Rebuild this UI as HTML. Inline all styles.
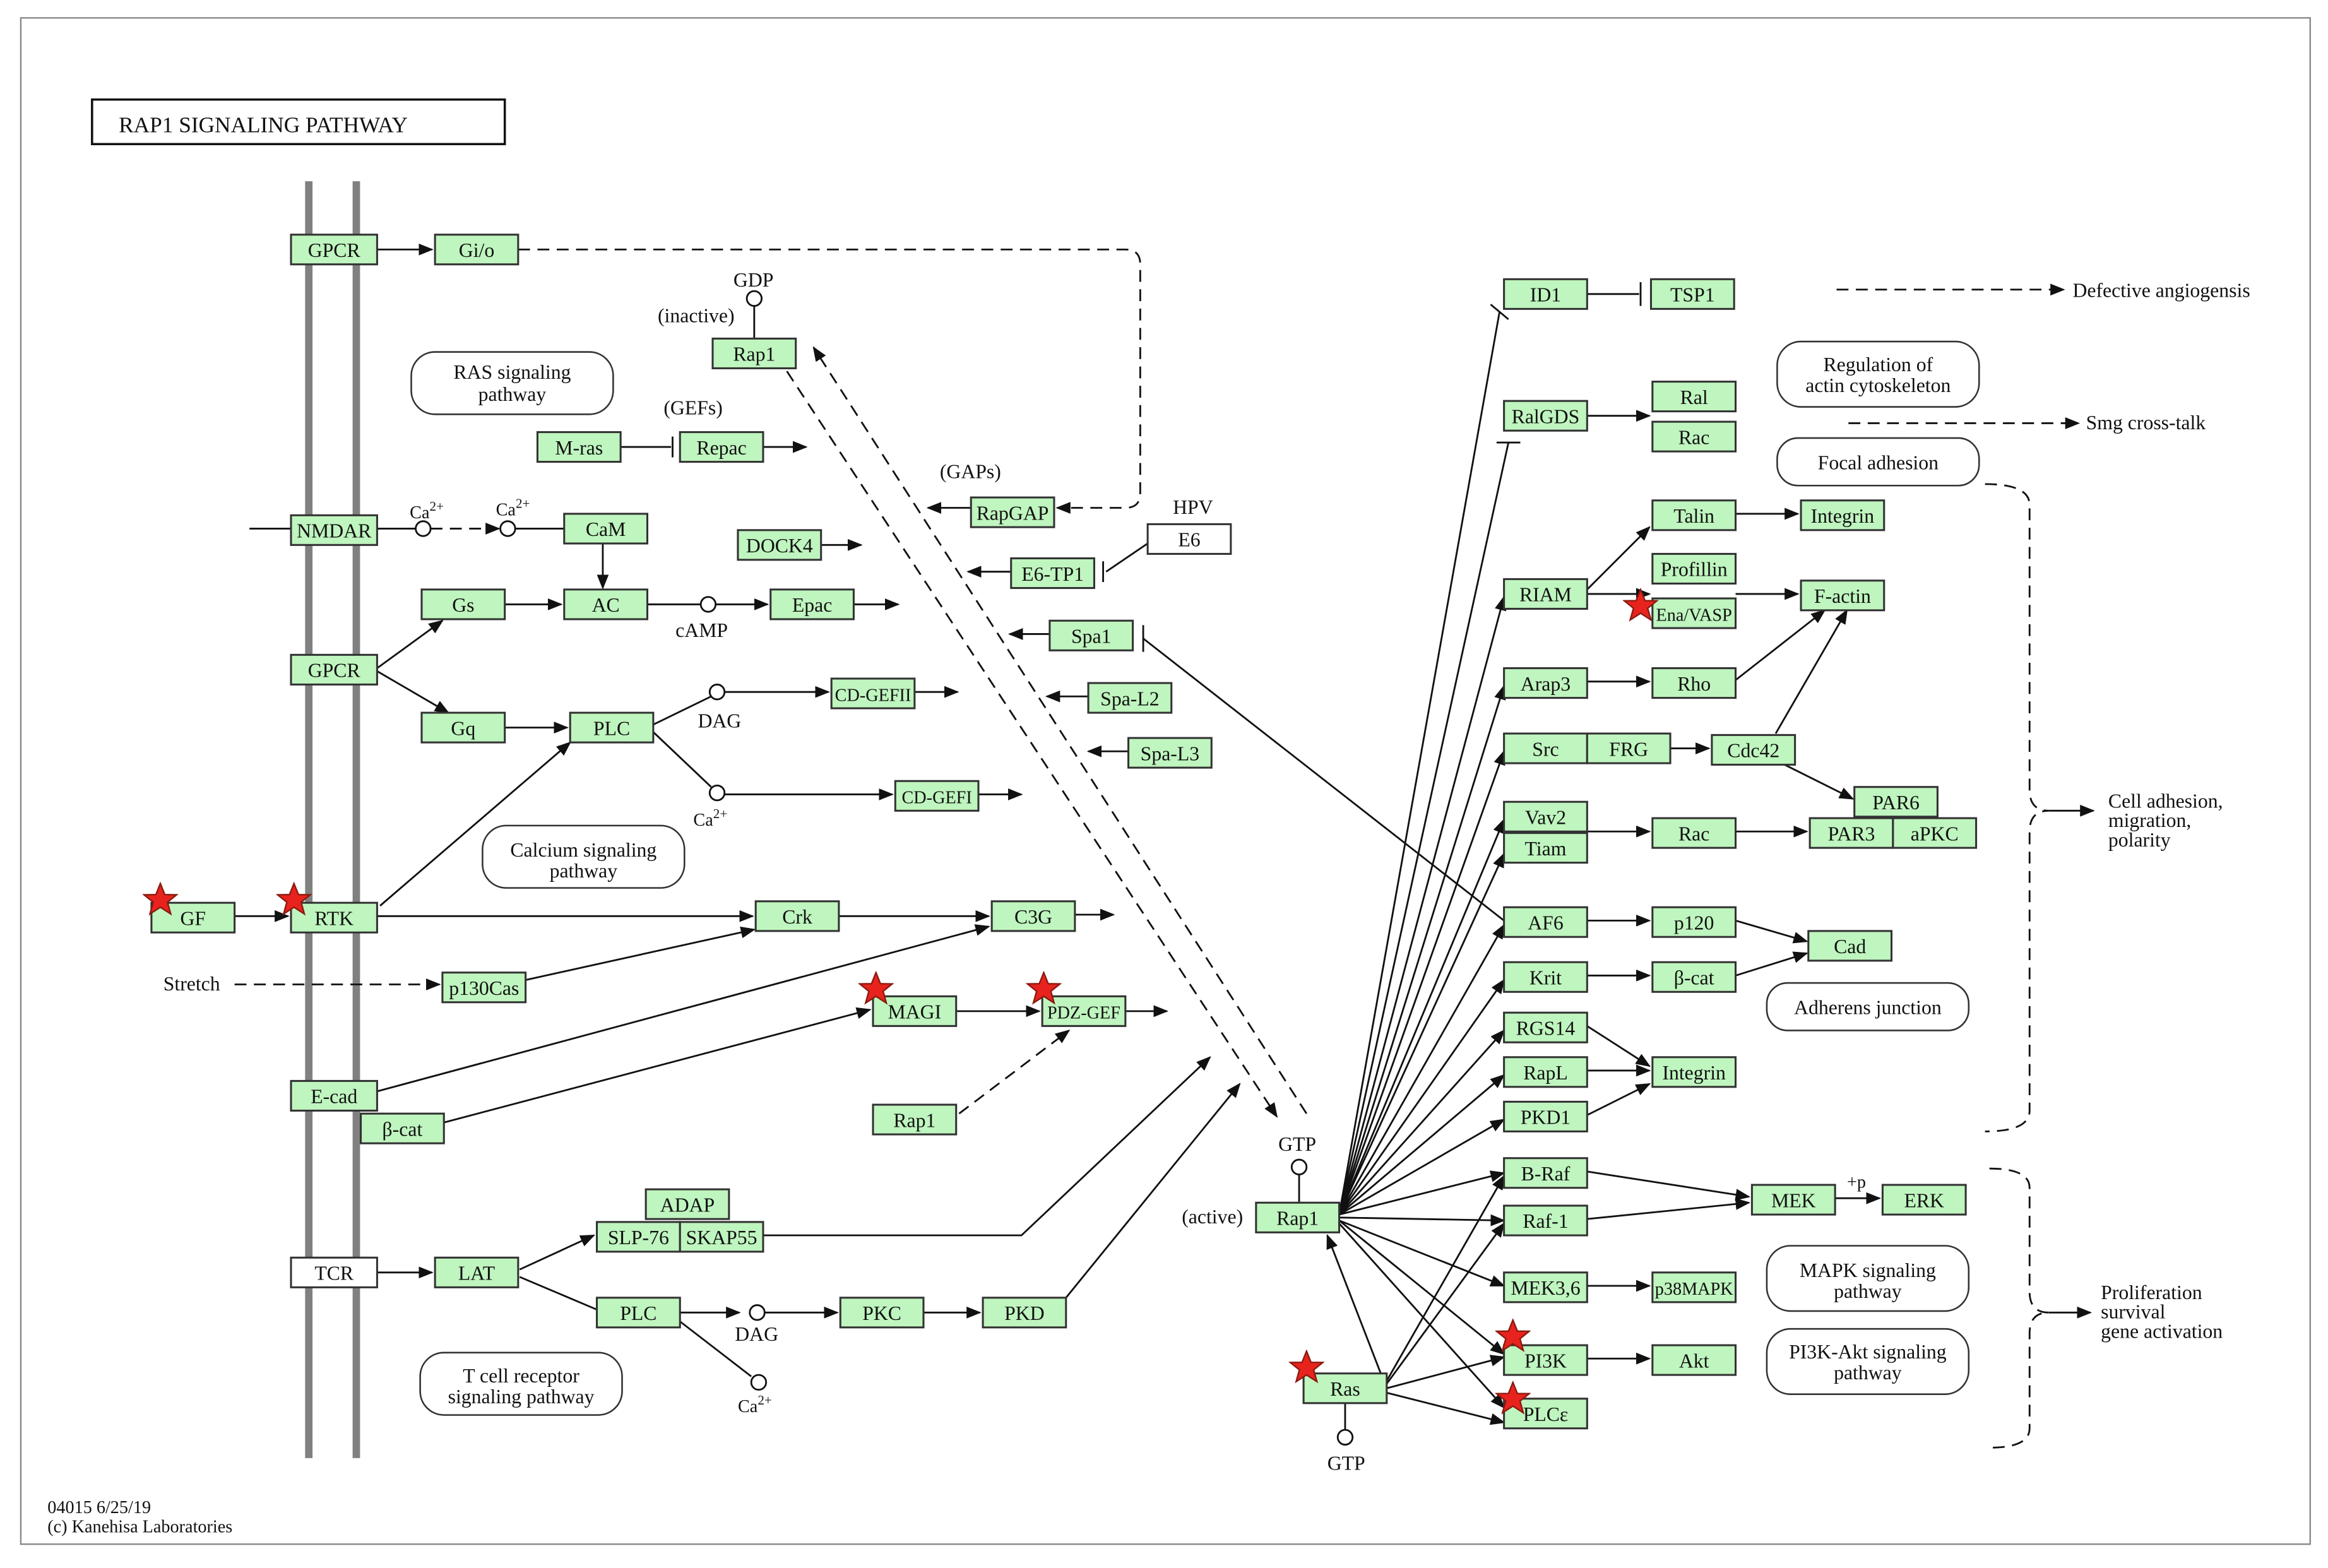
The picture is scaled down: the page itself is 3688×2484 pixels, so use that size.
<!DOCTYPE html>
<html><head><meta charset="utf-8"><style>
html,body{margin:0;padding:0;background:#fff}
svg{display:block}
text{font-family:"Liberation Serif",serif;font-size:13.5px;fill:#111}
.b{fill:#bff5bf;stroke:#333;stroke-width:1.3}
.w{fill:#fff;stroke:#333;stroke-width:1.3}
.r{fill:#fff;stroke:#333;stroke-width:1.1}
.l{stroke:#111;stroke-width:1.2;fill:none}
.d{stroke:#111;stroke-width:1.2;fill:none;stroke-dasharray:8,5}
.c{fill:#fff;stroke:#111;stroke-width:1.2}
</style></head><body>
<svg width="3688" height="2484" viewBox="0 0 1568 1056" xmlns="http://www.w3.org/2000/svg">
<defs>
<marker id="a" markerWidth="10" markerHeight="8" refX="9" refY="4" orient="auto" markerUnits="userSpaceOnUse"><path d="M0,0 L10,4 L0,8z" fill="#111"/></marker>
<symbol id="s" viewBox="-12 -12 24 24"><polygon points="0,-11 3,-3.5 11,-3.4 4.8,1.6 7,9.5 0,5 -7,9.5 -4.8,1.6 -11,-3.4 -3,-3.5" fill="#e8231e" stroke="#8a1a10" stroke-width="1"/></symbol>
</defs>
<rect x="14" y="12" width="1542" height="1028" fill="none" stroke="#888" stroke-width="1"/>
<rect x="62" y="67" width="278" height="30" fill="#fff" stroke="#111" stroke-width="1.5"/>
<text x="80" y="89" style="font-size:15px">RAP1 SIGNALING PATHWAY</text>
<line x1="208" y1="122" x2="208" y2="982" stroke="#808080" stroke-width="5"/>
<line x1="240" y1="122" x2="240" y2="982" stroke="#808080" stroke-width="5"/>

<!-- connectors -->
<g>
<line class="l" x1="254" y1="168" x2="291" y2="168" marker-end="url(#a)"/>
<path class="d" d="M349,168 H758 Q768,168 768,178 V332 Q768,342 758,342 H712" marker-end="url(#a)"/>
<line class="l" x1="508" y1="206" x2="508" y2="228"/>
<line class="l" x1="418" y1="301" x2="452" y2="301"/><line class="l" x1="453" y1="294" x2="453" y2="308"/>
<line class="l" x1="514" y1="301" x2="543" y2="301" marker-end="url(#a)"/>
<line class="l" x1="168" y1="356" x2="196" y2="356"/>
<line class="l" x1="254" y1="356" x2="280" y2="356"/>
<line class="d" x1="290" y1="356" x2="336" y2="356" marker-end="url(#a)"/>
<line class="l" x1="347" y1="356" x2="380" y2="356"/>
<line class="l" x1="406" y1="366" x2="406" y2="396" marker-end="url(#a)"/>
<line class="l" x1="553" y1="367" x2="580" y2="367" marker-end="url(#a)"/>
<line class="l" x1="654" y1="342" x2="625" y2="342" marker-end="url(#a)"/>
<line class="l" x1="773" y1="366" x2="745" y2="385"/><line class="l" x1="743" y1="378" x2="743" y2="392"/>
<line class="l" x1="681" y1="385" x2="652" y2="385" marker-end="url(#a)"/>
<line class="l" x1="707" y1="427" x2="680" y2="427" marker-end="url(#a)"/>
<line class="l" x1="733" y1="469" x2="705" y2="469" marker-end="url(#a)"/>
<line class="l" x1="760" y1="506" x2="733" y2="506" marker-end="url(#a)"/>
<line class="l" x1="254" y1="450" x2="298" y2="418" marker-end="url(#a)"/>
<line class="l" x1="254" y1="452" x2="302" y2="480" marker-end="url(#a)"/>
<line class="l" x1="340" y1="407" x2="378" y2="407" marker-end="url(#a)"/>
<line class="l" x1="436" y1="407" x2="472" y2="407"/>
<line class="l" x1="482" y1="407" x2="517" y2="407" marker-end="url(#a)"/>
<line class="l" x1="575" y1="407" x2="605" y2="407" marker-end="url(#a)"/>
<line class="l" x1="340" y1="490" x2="382" y2="490" marker-end="url(#a)"/>
<line class="l" x1="440" y1="488" x2="479" y2="469"/>
<line class="l" x1="488" y1="466" x2="558" y2="466" marker-end="url(#a)"/>
<line class="l" x1="616" y1="466" x2="645" y2="466" marker-end="url(#a)"/>
<line class="l" x1="440" y1="493" x2="479" y2="530"/>
<line class="l" x1="488" y1="535" x2="601" y2="535" marker-end="url(#a)"/>
<line class="l" x1="659" y1="535" x2="688" y2="535" marker-end="url(#a)"/>
<line class="l" x1="158" y1="617" x2="194" y2="617" marker-end="url(#a)"/>
<line class="l" x1="254" y1="617" x2="507" y2="617" marker-end="url(#a)"/>
<line class="l" x1="565" y1="617" x2="666" y2="617" marker-end="url(#a)"/>
<line class="l" x1="724" y1="616" x2="750" y2="616" marker-end="url(#a)"/>
<line class="l" x1="256" y1="610" x2="384" y2="500" marker-end="url(#a)"/>
<line class="d" x1="158" y1="663" x2="296" y2="663" marker-end="url(#a)"/>
<line class="l" x1="354" y1="660" x2="508" y2="626" marker-end="url(#a)"/>
<line class="l" x1="254" y1="735" x2="666" y2="624" marker-end="url(#a)"/>
<line class="l" x1="299" y1="756" x2="586" y2="680" marker-end="url(#a)"/>
<line class="l" x1="644" y1="681" x2="700" y2="681" marker-end="url(#a)"/>
<line class="l" x1="758" y1="681" x2="786" y2="681" marker-end="url(#a)"/>
<line class="d" x1="646" y1="750" x2="720" y2="694" marker-end="url(#a)"/>
<path class="l" d="M514,832 H688 L815,712" marker-end="url(#a)"/>
<line class="l" x1="254" y1="857" x2="291" y2="857" marker-end="url(#a)"/>
<line class="l" x1="350" y1="855" x2="400" y2="832" marker-end="url(#a)"/>
<line class="l" x1="350" y1="860" x2="402" y2="882"/>
<line class="l" x1="458" y1="884" x2="498" y2="884" marker-end="url(#a)"/>
<line class="l" x1="515" y1="884" x2="564" y2="884" marker-end="url(#a)"/>
<line class="l" x1="622" y1="884" x2="660" y2="884" marker-end="url(#a)"/>
<path class="l" d="M718,874 L835,730" marker-end="url(#a)"/>
<line class="l" x1="458" y1="890" x2="506" y2="927"/>
<line class="d" x1="530" y1="250" x2="860" y2="752" marker-end="url(#a)"/>
<line class="d" x1="880" y1="750" x2="548" y2="234" marker-end="url(#a)"/>
<line class="l" x1="875" y1="791" x2="875" y2="810"/>
<line class="l" x1="906" y1="945" x2="906" y2="963"/>
<line class="l" x1="1013" y1="620" x2="770" y2="430"/><line class="l" x1="770" y1="421" x2="770" y2="439"/>
<!-- fan from Rap1 -->
<g>
<line class="l" x1="902" y1="818" x2="1010" y2="210"/><line class="l" x1="1004" y1="205" x2="1016" y2="215"/>
<line class="l" x1="902" y1="818" x2="1016" y2="298"/><line class="l" x1="1008" y1="298" x2="1024" y2="298"/>
<line class="l" x1="902" y1="818" x2="1013" y2="402" marker-end="url(#a)"/>
<line class="l" x1="902" y1="818" x2="1013" y2="462" marker-end="url(#a)"/>
<line class="l" x1="902" y1="818" x2="1013" y2="506" marker-end="url(#a)"/>
<line class="l" x1="902" y1="818" x2="1013" y2="552" marker-end="url(#a)"/>
<line class="l" x1="902" y1="818" x2="1013" y2="575" marker-end="url(#a)"/>
<line class="l" x1="902" y1="818" x2="1013" y2="623" marker-end="url(#a)"/>
<line class="l" x1="902" y1="818" x2="1013" y2="660" marker-end="url(#a)"/>
<line class="l" x1="902" y1="818" x2="1013" y2="694" marker-end="url(#a)"/>
<line class="l" x1="902" y1="818" x2="1013" y2="724" marker-end="url(#a)"/>
<line class="l" x1="902" y1="818" x2="1013" y2="754" marker-end="url(#a)"/>
<line class="l" x1="902" y1="818" x2="1013" y2="790" marker-end="url(#a)"/>
<line class="l" x1="902" y1="820" x2="1013" y2="822" marker-end="url(#a)"/>
<line class="l" x1="902" y1="822" x2="1013" y2="866" marker-end="url(#a)"/>
<line class="l" x1="902" y1="822" x2="1013" y2="912" marker-end="url(#a)"/>
<line class="l" x1="902" y1="824" x2="1013" y2="948" marker-end="url(#a)"/>
</g>
<line class="l" x1="934" y1="930" x2="1013" y2="792" marker-end="url(#a)"/>
<line class="l" x1="934" y1="932" x2="1013" y2="824" marker-end="url(#a)"/>
<line class="l" x1="934" y1="935" x2="1013" y2="914" marker-end="url(#a)"/>
<line class="l" x1="934" y1="938" x2="1013" y2="958" marker-end="url(#a)"/>
<line class="l" x1="930" y1="925" x2="894" y2="832" marker-end="url(#a)"/>
<!-- right side -->
<line class="l" x1="1069" y1="198" x2="1104" y2="198"/><line class="l" x1="1105" y1="190" x2="1105" y2="206"/>
<line class="l" x1="1069" y1="280" x2="1111" y2="280" marker-end="url(#a)"/>
<line class="l" x1="1069" y1="397" x2="1111" y2="355" marker-end="url(#a)"/>
<line class="l" x1="1069" y1="400" x2="1111" y2="400" marker-end="url(#a)"/>
<line class="l" x1="1169" y1="346" x2="1211" y2="346" marker-end="url(#a)"/>
<line class="l" x1="1169" y1="400" x2="1211" y2="400" marker-end="url(#a)"/>
<line class="l" x1="1069" y1="459" x2="1111" y2="459" marker-end="url(#a)"/>
<line class="l" x1="1169" y1="458" x2="1229" y2="411" marker-end="url(#a)"/>
<line class="l" x1="1125" y1="504" x2="1151" y2="504" marker-end="url(#a)"/>
<line class="l" x1="1196" y1="494" x2="1244" y2="411" marker-end="url(#a)"/>
<line class="l" x1="1200" y1="514" x2="1248" y2="538" marker-end="url(#a)"/>
<line class="l" x1="1069" y1="560" x2="1111" y2="560" marker-end="url(#a)"/>
<line class="l" x1="1169" y1="560" x2="1217" y2="560" marker-end="url(#a)"/>
<line class="l" x1="1069" y1="620" x2="1111" y2="620" marker-end="url(#a)"/>
<line class="l" x1="1169" y1="620" x2="1217" y2="634" marker-end="url(#a)"/>
<line class="l" x1="1069" y1="657" x2="1111" y2="657" marker-end="url(#a)"/>
<line class="l" x1="1169" y1="657" x2="1217" y2="642" marker-end="url(#a)"/>
<line class="l" x1="1069" y1="691" x2="1111" y2="718" marker-end="url(#a)"/>
<line class="l" x1="1069" y1="721" x2="1111" y2="721" marker-end="url(#a)"/>
<line class="l" x1="1069" y1="751" x2="1111" y2="730" marker-end="url(#a)"/>
<line class="l" x1="1069" y1="789" x2="1178" y2="806" marker-end="url(#a)"/>
<line class="l" x1="1069" y1="821" x2="1178" y2="810" marker-end="url(#a)"/>
<line class="l" x1="1236" y1="807" x2="1266" y2="807" marker-end="url(#a)"/>
<line class="l" x1="1069" y1="866" x2="1111" y2="866" marker-end="url(#a)"/>
<line class="l" x1="1069" y1="915" x2="1111" y2="915" marker-end="url(#a)"/>
<line class="d" x1="1237" y1="195" x2="1390" y2="195" marker-end="url(#a)"/>
<line class="d" x1="1245" y1="285" x2="1400" y2="285" marker-end="url(#a)"/>
<path class="d" d="M1337,326 Q1367,326 1367,340 V532 Q1367,546 1380,546 Q1367,546 1367,560 V748 Q1367,762 1337,762"/>
<line class="l" x1="1380" y1="546" x2="1410" y2="546" marker-end="url(#a)"/>
<path class="d" d="M1340,787 Q1367,787 1367,800 V870 Q1367,884 1380,884 Q1367,884 1367,898 V962 Q1367,975 1340,975"/>
<line class="l" x1="1380" y1="884" x2="1408" y2="884" marker-end="url(#a)"/>
</g>

<!-- circles -->
<circle class="c" cx="508" cy="201" r="5"/><circle class="c" cx="285" cy="356" r="5"/><circle class="c" cx="342" cy="356" r="5"/>
<circle class="c" cx="477" cy="407" r="5"/><circle class="c" cx="483" cy="466" r="5"/><circle class="c" cx="483" cy="534" r="5"/>
<circle class="c" cx="510" cy="884" r="5"/><circle class="c" cx="511" cy="931" r="5"/><circle class="c" cx="875" cy="786" r="5"/><circle class="c" cx="906" cy="968" r="5"/>

<!-- rounded pathway boxes -->
<g>
<rect class="r" x="277" y="237" width="136" height="42" rx="16"/><text x="345" y="255" text-anchor="middle">RAS signaling</text><text x="345" y="270" text-anchor="middle">pathway</text>
<rect class="r" x="325" y="556" width="136" height="42" rx="16"/><text x="393" y="577" text-anchor="middle">Calcium signaling</text><text x="393" y="591" text-anchor="middle">pathway</text>
<rect class="r" x="283" y="911" width="136" height="42" rx="16"/><text x="351" y="931" text-anchor="middle">T cell receptor</text><text x="351" y="945" text-anchor="middle">signaling pathway</text>
<rect class="r" x="1197" y="230" width="136" height="44" rx="16"/><text x="1265" y="250" text-anchor="middle">Regulation of</text><text x="1265" y="264" text-anchor="middle">actin cytoskeleton</text>
<rect class="r" x="1197" y="295" width="136" height="32" rx="14"/><text x="1265" y="316" text-anchor="middle">Focal adhesion</text>
<rect class="r" x="1190" y="662" width="136" height="32" rx="14"/><text x="1258" y="683" text-anchor="middle">Adherens junction</text>
<rect class="r" x="1190" y="839" width="136" height="44" rx="16"/><text x="1258" y="860" text-anchor="middle">MAPK signaling</text><text x="1258" y="874" text-anchor="middle">pathway</text>
<rect class="r" x="1190" y="895" width="136" height="44" rx="16"/><text x="1258" y="915" text-anchor="middle">PI3K-Akt signaling</text><text x="1258" y="929" text-anchor="middle">pathway</text>
</g>

<!-- gene boxes -->
<g text-anchor="middle">
<rect class="b" x="196" y="158" width="58" height="20"/><text x="225" y="173">GPCR</text>
<rect class="b" x="293" y="158" width="56" height="20"/><text x="321" y="173">Gi/o</text>
<rect class="b" x="480" y="228" width="56" height="20"/><text x="508" y="243">Rap1</text>
<rect class="b" x="362" y="291" width="56" height="20"/><text x="390" y="306">M-ras</text>
<rect class="b" x="458" y="291" width="56" height="20"/><text x="486" y="306">Repac</text>
<rect class="b" x="196" y="347" width="58" height="20"/><text x="225" y="362">NMDAR</text>
<rect class="b" x="380" y="346" width="56" height="20"/><text x="408" y="361">CaM</text>
<rect class="b" x="497" y="357" width="56" height="20"/><text x="525" y="372">DOCK4</text>
<rect class="b" x="654" y="335" width="56" height="20"/><text x="682" y="350">RapGAP</text>
<rect class="w" x="773" y="353" width="56" height="20"/><text x="801" y="368">E6</text>
<rect class="b" x="681" y="376" width="56" height="20"/><text x="709" y="391">E6-TP1</text>
<rect class="b" x="284" y="397" width="56" height="20"/><text x="312" y="412">Gs</text>
<rect class="b" x="380" y="397" width="56" height="20"/><text x="408" y="412">AC</text>
<rect class="b" x="519" y="397" width="56" height="20"/><text x="547" y="412">Epac</text>
<rect class="b" x="707" y="418" width="56" height="20"/><text x="735" y="433">Spa1</text>
<rect class="b" x="196" y="441" width="58" height="20"/><text x="225" y="456">GPCR</text>
<rect class="b" x="733" y="460" width="56" height="20"/><text x="761" y="475">Spa-L2</text>
<rect class="b" x="560" y="457" width="56" height="20"/><text x="588" y="472" style="font-size:12px">CD-GEFII</text>
<rect class="b" x="284" y="480" width="56" height="20"/><text x="312" y="495">Gq</text>
<rect class="b" x="384" y="480" width="56" height="20"/><text x="412" y="495">PLC</text>
<rect class="b" x="760" y="497" width="56" height="20"/><text x="788" y="512">Spa-L3</text>
<rect class="b" x="603" y="526" width="56" height="20"/><text x="631" y="541" style="font-size:12px">CD-GEFI</text>
<rect class="b" x="102" y="608" width="56" height="20"/><text x="130" y="623">GF</text>
<rect class="b" x="196" y="608" width="58" height="20"/><text x="225" y="623">RTK</text>
<rect class="b" x="509" y="607" width="56" height="20"/><text x="537" y="622">Crk</text>
<rect class="b" x="668" y="607" width="56" height="20"/><text x="696" y="622">C3G</text>
<rect class="b" x="298" y="655" width="56" height="20"/><text x="326" y="670">p130Cas</text>
<rect class="b" x="588" y="671" width="56" height="20"/><text x="616" y="686">MAGI</text>
<rect class="b" x="702" y="671" width="56" height="20"/><text x="730" y="686" style="font-size:12px">PDZ-GEF</text>
<rect class="b" x="196" y="728" width="58" height="20"/><text x="225" y="743">E-cad</text>
<rect class="b" x="243" y="750" width="56" height="20"/><text x="271" y="765">β-cat</text>
<rect class="b" x="588" y="744" width="56" height="20"/><text x="616" y="759">Rap1</text>
<rect class="b" x="435" y="801" width="56" height="20"/><text x="463" y="816">ADAP</text>
<rect class="b" x="402" y="823" width="56" height="20"/><text x="430" y="838">SLP-76</text>
<rect class="b" x="458" y="823" width="56" height="20"/><text x="486" y="838">SKAP55</text>
<rect class="w" x="196" y="847" width="58" height="20"/><text x="225" y="862">TCR</text>
<rect class="b" x="293" y="847" width="56" height="20"/><text x="321" y="862">LAT</text>
<rect class="b" x="402" y="874" width="56" height="20"/><text x="430" y="889">PLC</text>
<rect class="b" x="566" y="874" width="56" height="20"/><text x="594" y="889">PKC</text>
<rect class="b" x="662" y="874" width="56" height="20"/><text x="690" y="889">PKD</text>
<rect class="b" x="846" y="810" width="56" height="20"/><text x="874" y="825">Rap1</text>
<rect class="b" x="878" y="925" width="56" height="20"/><text x="906" y="940">Ras</text>
<rect class="b" x="1013" y="188" width="56" height="20"/><text x="1041" y="203">ID1</text>
<rect class="b" x="1112" y="188" width="56" height="20"/><text x="1140" y="203">TSP1</text>
<rect class="b" x="1013" y="270" width="56" height="20"/><text x="1041" y="285">RalGDS</text>
<rect class="b" x="1113" y="257" width="56" height="20"/><text x="1141" y="272">Ral</text>
<rect class="b" x="1113" y="284" width="56" height="20"/><text x="1141" y="299">Rac</text>
<rect class="b" x="1113" y="337" width="56" height="20"/><text x="1141" y="352">Talin</text>
<rect class="b" x="1213" y="337" width="56" height="20"/><text x="1241" y="352">Integrin</text>
<rect class="b" x="1113" y="373" width="56" height="20"/><text x="1141" y="388">Profillin</text>
<rect class="b" x="1013" y="390" width="56" height="20"/><text x="1041" y="405">RIAM</text>
<rect class="b" x="1113" y="403" width="56" height="20"/><text x="1141" y="418" style="font-size:12px">Ena/VASP</text>
<rect class="b" x="1213" y="391" width="56" height="20"/><text x="1241" y="406">F-actin</text>
<rect class="b" x="1013" y="450" width="56" height="20"/><text x="1041" y="465">Arap3</text>
<rect class="b" x="1113" y="450" width="56" height="20"/><text x="1141" y="465">Rho</text>
<rect class="b" x="1013" y="494" width="56" height="20"/><text x="1041" y="509">Src</text>
<rect class="b" x="1069" y="494" width="56" height="20"/><text x="1097" y="509">FRG</text>
<rect class="b" x="1153" y="495" width="56" height="20"/><text x="1181" y="510">Cdc42</text>
<rect class="b" x="1249" y="530" width="56" height="20"/><text x="1277" y="545">PAR6</text>
<rect class="b" x="1219" y="551" width="56" height="20"/><text x="1247" y="566">PAR3</text>
<rect class="b" x="1275" y="551" width="56" height="20"/><text x="1303" y="566">aPKC</text>
<rect class="b" x="1013" y="540" width="56" height="20"/><text x="1041" y="555">Vav2</text>
<rect class="b" x="1013" y="561" width="56" height="20"/><text x="1041" y="576">Tiam</text>
<rect class="b" x="1113" y="551" width="56" height="20"/><text x="1141" y="566">Rac</text>
<rect class="b" x="1013" y="611" width="56" height="20"/><text x="1041" y="626">AF6</text>
<rect class="b" x="1113" y="611" width="56" height="20"/><text x="1141" y="626">p120</text>
<rect class="b" x="1218" y="627" width="56" height="20"/><text x="1246" y="642">Cad</text>
<rect class="b" x="1013" y="648" width="56" height="20"/><text x="1041" y="663">Krit</text>
<rect class="b" x="1113" y="648" width="56" height="20"/><text x="1141" y="663">β-cat</text>
<rect class="b" x="1013" y="682" width="56" height="20"/><text x="1041" y="697">RGS14</text>
<rect class="b" x="1013" y="712" width="56" height="20"/><text x="1041" y="727">RapL</text>
<rect class="b" x="1113" y="712" width="56" height="20"/><text x="1141" y="727">Integrin</text>
<rect class="b" x="1013" y="742" width="56" height="20"/><text x="1041" y="757">PKD1</text>
<rect class="b" x="1013" y="780" width="56" height="20"/><text x="1041" y="795">B-Raf</text>
<rect class="b" x="1013" y="812" width="56" height="20"/><text x="1041" y="827">Raf-1</text>
<rect class="b" x="1180" y="798" width="56" height="20"/><text x="1208" y="813">MEK</text>
<rect class="b" x="1268" y="798" width="56" height="20"/><text x="1296" y="813">ERK</text>
<rect class="b" x="1013" y="857" width="56" height="20"/><text x="1041" y="872">MEK3,6</text>
<rect class="b" x="1113" y="857" width="56" height="20"/><text x="1141" y="872" style="font-size:12px">p38MAPK</text>
<rect class="b" x="1013" y="906" width="56" height="20"/><text x="1041" y="921">PI3K</text>
<rect class="b" x="1113" y="906" width="56" height="20"/><text x="1141" y="921">Akt</text>
<rect class="b" x="1013" y="942" width="56" height="20"/><text x="1041" y="957">PLCε</text>
</g>

<!-- labels -->
<g>
<text x="494" y="193">GDP</text><text x="443" y="217">(inactive)</text><text x="447" y="279">(GEFs)</text>
<text x="633" y="322">(GAPs)</text><text x="790" y="346">HPV</text>
<text x="276" y="349" style="font-size:12px">Ca<tspan dy="-5" style="font-size:9px">2+</tspan></text>
<text x="334" y="347" style="font-size:12px">Ca<tspan dy="-5" style="font-size:9px">2+</tspan></text>
<text x="455" y="429">cAMP</text><text x="470" y="490">DAG</text>
<text x="467" y="556" style="font-size:12px">Ca<tspan dy="-5" style="font-size:9px">2+</tspan></text>
<text x="110" y="667">Stretch</text>
<text x="495" y="903">DAG</text>
<text x="497" y="951" style="font-size:12px">Ca<tspan dy="-5" style="font-size:9px">2+</tspan></text>
<text x="861" y="775">GTP</text><text x="796" y="824">(active)</text><text x="894" y="990">GTP</text>
<text x="1244" y="800" style="font-size:12px">+p</text>
<text x="1396" y="200">Defective angiogensis</text>
<text x="1405" y="289">Smg cross-talk</text>
<text x="1420" y="544">Cell adhesion,</text><text x="1420" y="557">migration,</text><text x="1420" y="570">polarity</text>
<text x="1415" y="875">Proliferation</text><text x="1415" y="888">survival</text><text x="1415" y="901">gene activation</text>
<text x="32" y="1019" style="font-size:12px">04015 6/25/19</text>
<text x="32" y="1032" style="font-size:12px">(c) Kanehisa Laboratories</text>
</g>

<!-- stars -->
<use href="#s" x="96" y="594" width="24" height="24"/>
<use href="#s" x="186" y="594" width="24" height="24"/>
<use href="#s" x="578" y="654" width="24" height="24"/>
<use href="#s" x="691" y="654" width="24" height="24"/>
<use href="#s" x="1093" y="396" width="24" height="24"/>
<use href="#s" x="868" y="909" width="24" height="24"/>
<use href="#s" x="1007" y="888" width="24" height="24"/>
<use href="#s" x="1007" y="930" width="24" height="24"/>
</svg>
</body></html>
